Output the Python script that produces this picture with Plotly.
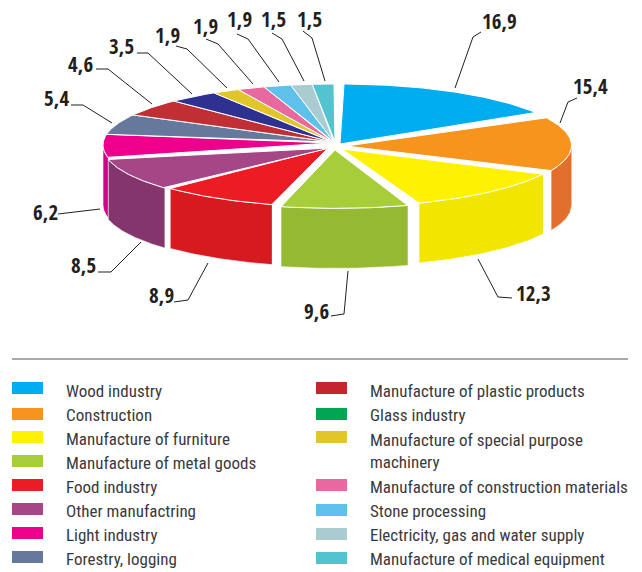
import numpy as np
import plotly.graph_objects as go

# slices, clockwise from 12 o'clock
pie_names = ["Wood industry", "Construction", "Manufacture of furniture",
             "Manufacture of metal goods", "Food industry", "Other manufactring",
             "Light industry", "Forestry, logging", "Manufacture of plastic products",
             "Glass industry", "Manufacture of special purpose machinery",
             "Manufacture of construction materials", "Stone processing",
             "Electricity, gas and water supply", "Manufacture of medical equipment"]
pie_values = [16.9, 15.4, 12.3, 9.6, 8.9, 8.5, 6.2, 5.4, 4.6, 3.5, 1.9, 1.9, 1.9, 1.5, 1.5]
value_labels = ["16,9", "15,4", "12,3", "9,6", "8,9", "8,5", "6,2", "5,4", "4,6", "3,5",
                "1,9", "1,9", "1,9", "1,5", "1,5"]
top_colors = ["#00AEEF", "#F7941E", "#FFF200", "#A6CE39", "#ED1C24", "#A54686", "#EC008C",
              "#64799B", "#C02F34", "#2E3192", "#E0C62A", "#E8699F", "#5EC1EC", "#A8CCD0", "#53C4CF"]
wall_colors = [None, "#E36F2C", "#F2E500", "#95B933", "#D71920", "#85356D", "#D4008A",
               None, None, None, None, None, None, None, None]

legend_left = ["Wood industry", "Construction", "Manufacture of furniture",
               "Manufacture of metal goods", "Food industry", "Other manufactring",
               "Light industry", "Forestry, logging"]
legend_left_colors = ["#00AEEF", "#F7941E", "#FFF200", "#A6CE39", "#ED1C24", "#A54686",
                      "#EC008C", "#64799B"]
legend_right = ["Manufacture of plastic products", "Glass industry",
                "Manufacture of special purpose<br>machinery",
                "Manufacture of construction materials", "Stone processing",
                "Electricity, gas and water supply", "Manufacture of medical equipment"]
legend_right_colors = ["#C1272D", "#00A651", "#E0C62A", "#E8699F", "#5EC1EC", "#A8CCD0", "#53C4CF"]

# pie geometry in page pixels
RX, RY, DEPTH = 231, 61, 60
# where each slice's ellipse is centred once pulled out
centres = [(340, 145), (340.5, 145.5), (338, 146), (336, 147.4), (336, 146), (334, 146.5),
           (334, 145), (334, 145), (334, 145), (334, 145), (334, 145), (334, 145),
           (334, 145), (334, 145), (334, 145)]
# where the slice's point sits
apexes = [(340, 144), (346, 146), (342, 149), (335, 150), (328, 148), (330, 148),
          (330, 143), (331, 142), (332, 142), (332, 142), (333, 142), (333, 142),
          (334, 142), (334, 142), (335, 142)]
# degrees trimmed off the start and the end of each slice
trim = [(1, 3), (2.2, 2), (1.2, 1.1), (1.35, 1.35), (1, 1.3), (0, 0), (0, 0), (0, 0), (0, 0),
        (0, 0), (0, 0), (0, 0), (0, 0), (0, 0), (0, 0)]

# label text centre, then leader line elbow points working back to the pie
label_xy = [(499, 21), (590, 86), (533, 293), (316, 311), (161, 295), (83, 265), (45, 212),
            (56, 98), (80, 64), (121, 46), (167, 35), (205, 26), (239, 19), (273, 19), (309, 19)]
leaders = [[(455, 88), (473, 37), (481, 32)],
           [(560, 123), (568, 102), (577, 98)],
           [(478, 259), (498, 297), (512, 298)],
           [(348, 271), (344, 314), (331, 316)],
           [(208, 263), (188, 300), (174, 302)],
           [(141, 242), (111, 272), (98, 272)],
           [(100, 209), (70, 213), (58, 214)],
           [(112, 123), (83, 105), (71, 105)],
           [(152, 104), (108, 69), (96, 69)],
           [(192, 94), (148, 53), (137, 53)],
           [(227, 88), (187, 49), (176, 46)],
           [(253, 84), (218, 44), (206, 39)],
           [(279, 82), (248, 39), (237, 34)],
           [(304, 81), (282, 39), (272, 33)],
           [(325, 81), (312, 38), (303, 31)]]

fig = go.Figure()

edges = np.concatenate([[0], np.cumsum(pie_values)]) / sum(pie_values) * 360


def arc(a0, a1, ox, oy):
    t = np.radians(np.linspace(a0, a1, 80))
    return ox + RX * np.sin(t), oy - RY * np.cos(t)


# walls first, the ones nearest the viewer last
for i in [1, 6, 2, 5, 4, 3]:
    a0 = max(edges[i] + trim[i][0], 90)
    a1 = min(edges[i + 1] - trim[i][1], 270)
    x, y = arc(a0, a1, *centres[i])
    fig.add_trace(go.Scatter(x=np.concatenate([x, x[::-1]]),
                             y=np.concatenate([y, y[::-1] + DEPTH]),
                             mode="lines", fill="toself", fillcolor=wall_colors[i],
                             line=dict(color="white", width=0.6), hoverinfo="skip",
                             showlegend=False))

for i in range(len(pie_values)):
    x, y = arc(edges[i] + trim[i][0], edges[i + 1] - trim[i][1], *centres[i])
    ax, ay = apexes[i]
    fig.add_trace(go.Scatter(x=np.concatenate([[ax], x, [ax]]),
                             y=np.concatenate([[ay], y, [ay]]),
                             mode="lines", fill="toself", fillcolor=top_colors[i],
                             line=dict(color="white", width=1), name=pie_names[i],
                             text=value_labels[i], hoveron="fills", showlegend=False))

# leader lines and value labels
for pts, (lx, ly), txt in zip(leaders, label_xy, value_labels):
    fig.add_trace(go.Scatter(x=[p[0] for p in pts], y=[p[1] for p in pts], mode="lines",
                             line=dict(color="#231F20", width=1), hoverinfo="skip",
                             showlegend=False))
    fig.add_annotation(x=lx, y=ly, text=txt, showarrow=False, xanchor="center", yanchor="middle",
                       font=dict(family="Open Sans Condensed", size=21, color="#231F20"))

shapes = [dict(type="line", x0=12, x1=628, y0=359, y1=359, line=dict(color="#555555", width=1))]


def add_legend(names, colors, box_tops, text_rows, box_x, text_x):
    for name, color, top, row in zip(names, colors, box_tops, text_rows):
        shapes.append(dict(type="rect", x0=box_x, x1=box_x + 31, y0=top, y1=top + 12,
                           fillcolor=color, line=dict(width=0)))
        fig.add_annotation(x=text_x, y=row, text=name, showarrow=False, xanchor="left",
                           yanchor="middle", align="left",
                           font=dict(family="Roboto Condensed", size=17, color="#3A3A3C"))


add_legend(legend_left, legend_left_colors, [382, 408, 431, 455, 479, 503, 527, 551],
           [391, 415, 439, 463, 487, 511, 535, 559], 12, 64)
add_legend(legend_right, legend_right_colors, [382, 408, 431, 479, 504, 528, 552],
           [391, 415, 451, 487, 511, 535, 559], 316, 368)

fig.update_layout(width=642, height=572, margin=dict(l=0, r=0, t=0, b=0),
                  paper_bgcolor="white", plot_bgcolor="white", shapes=shapes,
                  xaxis=dict(range=[0, 642], visible=False, fixedrange=True),
                  yaxis=dict(range=[572, 0], visible=False, fixedrange=True))

fig.write_html("out.html", config=dict(displayModeBar=False),
               post_script="document.body.style.margin='0';")
